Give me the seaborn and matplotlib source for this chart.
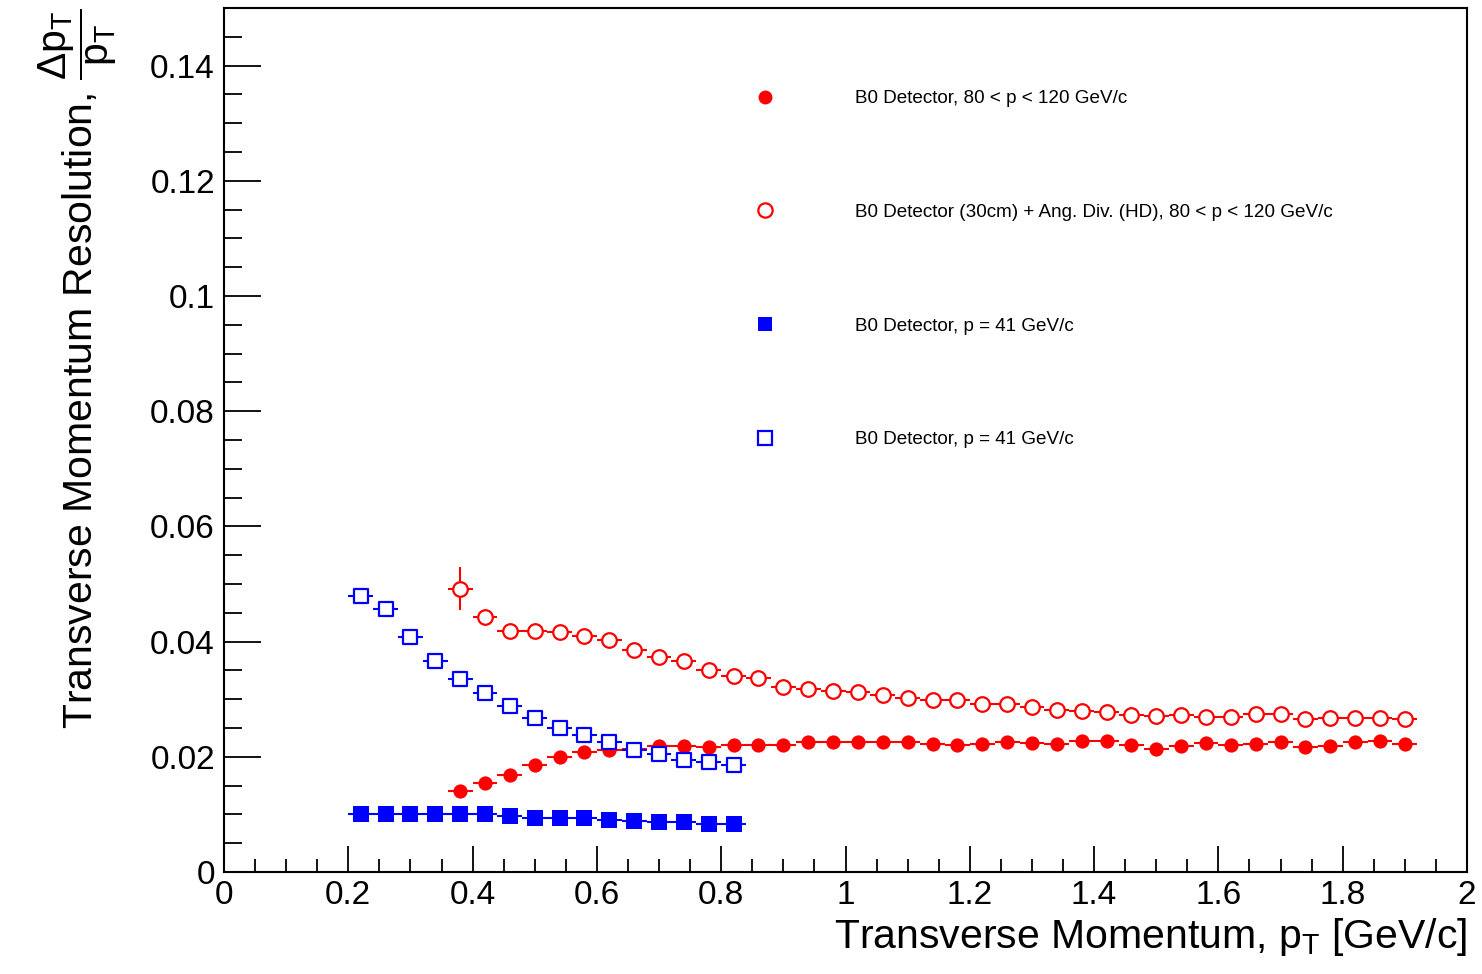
import numpy as np
import pandas as pd
import matplotlib
matplotlib.use("Agg")
from matplotlib import pyplot as plt
from matplotlib.lines import Line2D
from matplotlib.ticker import MultipleLocator
import seaborn as sns

# bin centres (GeV/c)
red_pt = [0.38, 0.42, 0.46, 0.50, 0.54, 0.58, 0.62, 0.66, 0.70, 0.74, 0.78, 0.82,
          0.86, 0.90, 0.94, 0.98, 1.02, 1.06, 1.10, 1.14, 1.18, 1.22, 1.26, 1.30,
          1.34, 1.38, 1.42, 1.46, 1.50, 1.54, 1.58, 1.62, 1.66, 1.70, 1.74, 1.78,
          1.82, 1.86, 1.90]
blue_pt = [0.22, 0.26, 0.30, 0.34, 0.38, 0.42, 0.46, 0.50, 0.54, 0.58, 0.62, 0.66,
           0.70, 0.74, 0.78, 0.82]

# resolution values
b0_high_p = [0.0141, 0.0154, 0.0169, 0.0186, 0.0199, 0.0208, 0.0212, 0.0214, 0.0218,
             0.0218, 0.0217, 0.0221, 0.0221, 0.0221, 0.0225, 0.0225, 0.0225, 0.0225,
             0.0226, 0.0223, 0.0220, 0.0223, 0.0226, 0.0224, 0.0223, 0.0227, 0.0227,
             0.0221, 0.0214, 0.0218, 0.0224, 0.0220, 0.0223, 0.0225, 0.0217, 0.0218,
             0.0225, 0.0228, 0.0223]
b0_angdiv_high_p = [0.0492, 0.0443, 0.0418, 0.0418, 0.0416, 0.0410, 0.0402, 0.0386,
                    0.0373, 0.0366, 0.0351, 0.0341, 0.0337, 0.0321, 0.0318, 0.0315,
                    0.0312, 0.0308, 0.0302, 0.0299, 0.0298, 0.0292, 0.0292, 0.0286,
                    0.0281, 0.0280, 0.0278, 0.0272, 0.0271, 0.0272, 0.0269, 0.0269,
                    0.0274, 0.0274, 0.0266, 0.0267, 0.0267, 0.0268, 0.0266]
b0_angdiv_err = [0.0037] + [0.0] * 38
b0_41 = [0.0101, 0.0101, 0.0101, 0.0101, 0.0101, 0.0101, 0.0097, 0.0094, 0.0094,
         0.0093, 0.0091, 0.0088, 0.0086, 0.0086, 0.0084, 0.0084]
b0_41_open = [0.0480, 0.0456, 0.0408, 0.0367, 0.0335, 0.0310, 0.0289, 0.0267, 0.0250,
              0.0237, 0.0225, 0.0212, 0.0204, 0.0195, 0.0191, 0.0186]

labels = ["B0 Detector, 80 < p < 120 GeV/c",
          "B0 Detector (30cm) + Ang. Div. (HD), 80 < p < 120 GeV/c",
          "B0 Detector, p = 41 GeV/c",
          "B0 Detector, p = 41 GeV/c"]

sns.set_theme(style="ticks")
plt.rcParams['font.family'] = ['Liberation Sans', 'DejaVu Sans']
plt.rcParams['mathtext.fontset'] = 'custom'
plt.rcParams['mathtext.rm'] = 'Liberation Sans'
plt.rcParams['mathtext.it'] = 'Liberation Sans'
plt.rcParams['mathtext.bf'] = 'Liberation Sans'
for key in ['text.color', 'axes.labelcolor', 'xtick.color', 'ytick.color']:
    plt.rcParams[key] = 'black'

RED = (1, 0, 0)
BLUE = (0, 0, 1)

fig = plt.figure(figsize=(14.82, 9.74), dpi=100)
ax = fig.add_axes([224 / 1482, 1 - 872 / 974, (1467 - 224) / 1482, (872 - 8) / 974])

series = [
    (red_pt, b0_high_p, None, RED, 'o', True, 105),
    (red_pt, b0_angdiv_high_p, b0_angdiv_err, RED, 'o', False, 110),
    (blue_pt, b0_41, None, BLUE, 's', True, 120),
    (blue_pt, b0_41_open, None, BLUE, 's', False, 112),
]

for x, y, yerr, col, mk, filled, size in series:
    ax.errorbar(x, y, xerr=0.02, yerr=yerr, fmt='none', ecolor=col,
                elinewidth=1.5, capsize=0, zorder=2)
    df = pd.DataFrame({'pt': x, 'res': y})
    sns.scatterplot(data=df, x='pt', y='res', ax=ax, marker=mk, s=size,
                    facecolor=col if filled else 'white', edgecolor=col,
                    linewidth=0 if filled else 1.6, zorder=3, legend=False)

ax.set_xlim(0, 2)
ax.set_ylim(0, 0.15)
ax.xaxis.set_minor_locator(MultipleLocator(0.05))
ax.yaxis.set_minor_locator(MultipleLocator(0.005))
ax.set_xticks([0, 0.2, 0.4, 0.6, 0.8, 1, 1.2, 1.4, 1.6, 1.8, 2])
ax.set_xticklabels(['0', '0.2', '0.4', '0.6', '0.8', '1', '1.2', '1.4', '1.6', '1.8', '2'])
ax.set_yticks([0, 0.02, 0.04, 0.06, 0.08, 0.1, 0.12, 0.14])
ax.set_yticklabels(['0', '0.02', '0.04', '0.06', '0.08', '0.1', '0.12', '0.14'])

ax.tick_params(axis='x', which='major', direction='in', length=18.7, width=1.3,
               labelsize=24, pad=6, top=False)
ax.tick_params(axis='x', which='minor', direction='in', length=9.4, width=1.3, top=False)
ax.tick_params(axis='y', which='major', direction='in', length=26.6, width=1.3,
               labelsize=24, pad=6.5, right=False)
ax.tick_params(axis='y', which='minor', direction='in', length=13.3, width=1.3, right=False)
for sp in ax.spines.values():
    sp.set_linewidth(1.5)
    sp.set_color('black')

ax.set_xlabel(r'Transverse Momentum, p$_{\mathrm{T}}$ [GeV/c]', fontsize=29.5,
              loc='right')
ax.xaxis.label.set_va('baseline')
ax.xaxis.set_label_coords(1.0, -0.088)
ax.set_ylabel(r'Transverse Momentum Resolution, $\dfrac{\Delta \mathrm{p}_{\mathrm{T}}}{\mathrm{p}_{\mathrm{T}}}$',
              fontsize=29.5, loc='top')
ax.yaxis.label.set_va('baseline')
ax.yaxis.set_label_coords(-0.1054, 1.0)

handles = [
    Line2D([], [], ls='none', marker='o', ms=10, mfc=RED, mec=RED, mew=0),
    Line2D([], [], ls='none', marker='o', ms=10.3, mfc='white', mec=RED, mew=1.6),
    Line2D([], [], ls='none', marker='s', ms=10.5, mfc=BLUE, mec=BLUE, mew=0),
    Line2D([], [], ls='none', marker='s', ms=10.3, mfc='white', mec=BLUE, mew=1.6),
]
ax.legend(handles, labels, loc='upper left', bbox_to_anchor=(746 / 1482, 1 - 90 / 974),
          bbox_transform=fig.transFigure, frameon=False, fontsize=13.6,
          handlelength=2, handletextpad=3.77, labelspacing=5.11, borderpad=0,
          borderaxespad=0)

fig.savefig('out.png', dpi=100, facecolor='white')
